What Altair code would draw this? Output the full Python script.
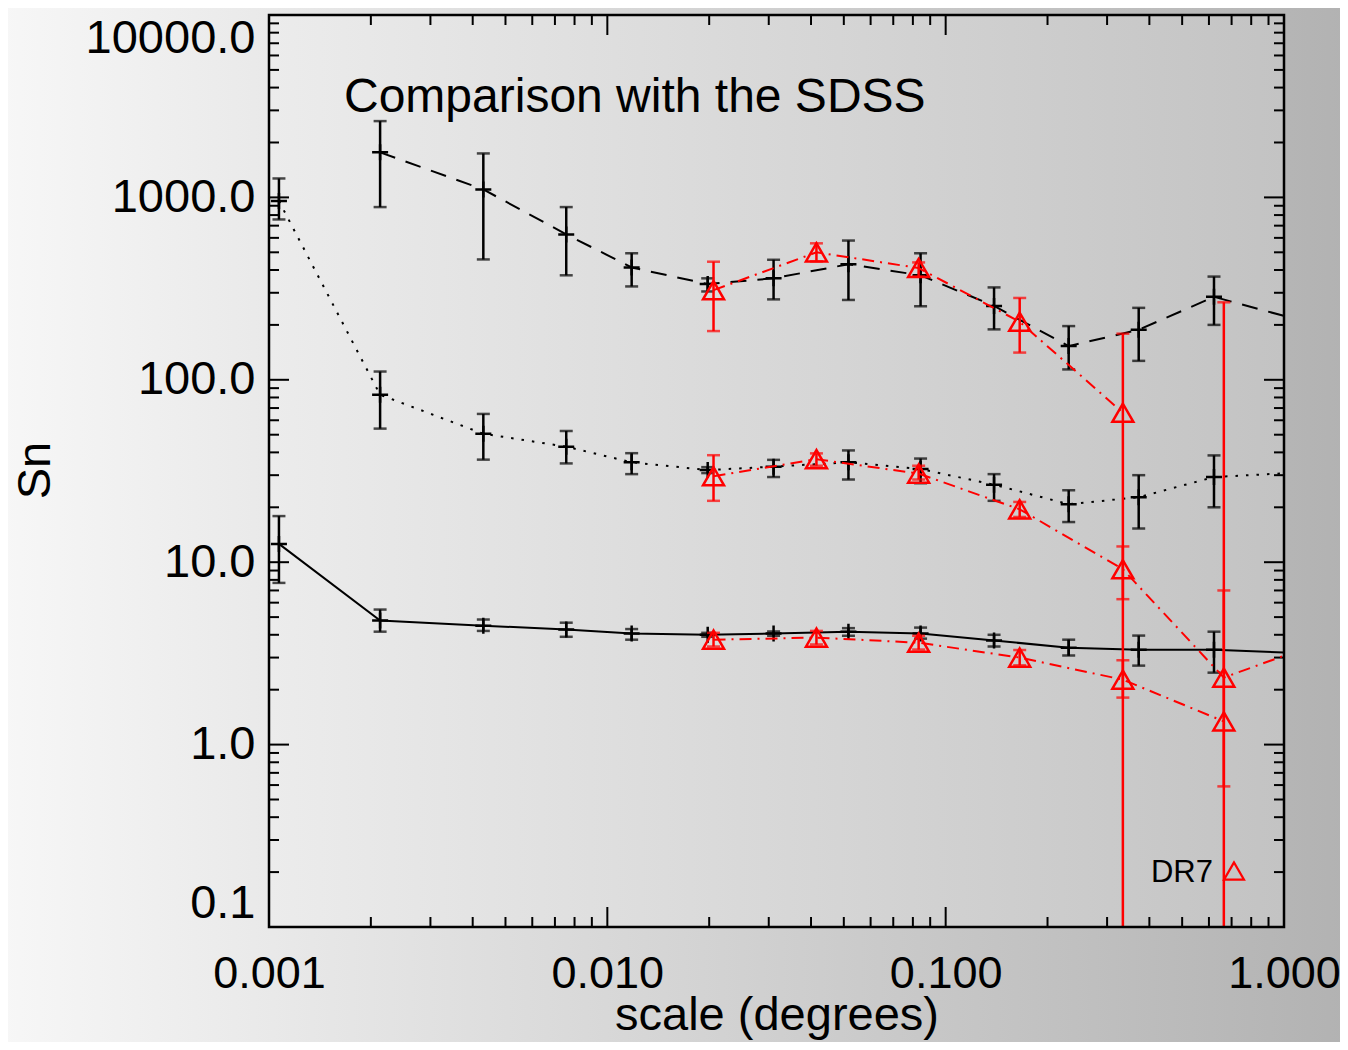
import altair as alt
import pandas as pd

# ---------------- data ----------------
X_BLACK = [0.00107, 0.00213, 0.0043, 0.00756, 0.0118, 0.0198, 0.031,
           0.0516, 0.0843, 0.139, 0.231, 0.372, 0.621]
X_EDGE = 1.0

# dashed series (starts at the 2nd x)
DASH_X = X_BLACK[1:]
DASH_Y = [1766, 1106, 627, 413, 335, 360, 430, 374, 254, 153, 188, 285]
DASH_LO = [885, 457, 374, 325, 305, 276, 274, 253, 189, 114, 127, 200]
DASH_HI = [2620, 1742, 885, 494, 360, 455, 580, 494, 321, 197, 248, 368]
DASH_END = 224

DOT_X = X_BLACK
DOT_Y = [955, 82.8, 50.6, 43, 35.3, 32, 33.4, 35.3, 32.4, 26.6, 20.8, 22.7, 29.3]
DOT_LO = [757, 54, 36.5, 34.8, 30.4, 30.8, 29.3, 28.4, 27.1, 21.7, 16.6, 15.3, 20]
DOT_HI = [1270, 111, 65, 52.4, 39.6, 33.2, 36.4, 41, 37, 30.4, 24.8, 30, 38.5]
DOT_END = 30.7

SOL_X = X_BLACK
SOL_Y = [12.6, 4.79, 4.49, 4.27, 4.06, 4.0, 4.06, 4.16, 4.06, 3.72, 3.4, 3.31, 3.31]
SOL_LO = [7.7, 4.16, 4.2, 3.9, 3.76, 3.9, 3.95, 3.95, 3.81, 3.45, 3.08, 2.71, 2.48]
SOL_HI = [17.9, 5.5, 4.85, 4.66, 4.3, 4.1, 4.17, 4.35, 4.38, 4.0, 3.76, 3.96, 4.16]
SOL_END = 3.2

X_RED = [0.0206, 0.0415, 0.0832, 0.1655, 0.334, 0.664]

RTOP_X = X_RED[:5]
RTOP_Y = [310, 500, 410, 208, 66]
RTOP_LO = [185, 446, 368, 141, 0.05]
RTOP_HI = [444, 560, 440, 281, 179]

RMID_X = X_RED
RMID_Y = [29.6, 36.7, 30.6, 19.5, 9.15, 2.33]
RMID_LO = [21.7, 33.8, 28.4, 17.7, 6.27, 0.59]
RMID_HI = [38.6, 39.5, 33.8, 21.4, 12.2, 7.0]
RMID_END = 3.07

RBOT_X = X_RED
RBOT_Y = [3.76, 3.86, 3.62, 3.0, 2.27, 1.34]
RBOT_LO = [3.45, 3.54, 3.32, 2.72, 1.81, 0.05]
RBOT_HI = [4.1, 4.2, 3.95, 3.3, 2.9, 266]

X_MAJOR = [0.001, 0.01, 0.1, 1.0]
X_MINOR = [m * d for d in [0.001, 0.01, 0.1] for m in range(2, 10)]
Y_MAJOR = [0.1, 1.0, 10.0, 100.0, 1000.0, 10000.0]
Y_MINOR = [m * d for d in [0.1, 1, 10, 100, 1000] for m in range(2, 10)]

TITLE = "Comparison with the SDSS"
X_TITLE = "scale (degrees)"
Y_TITLE = "Sn"
LEGEND = "DR7"

# ---------------- layout / style ----------------
W, H = 1015, 912
FONT = "Liberation Sans"
RED = "#ff0000"

xscale = alt.Scale(type="log", domain=[0.001, 1.0], nice=False)
yscale = alt.Scale(type="log", domain=[0.1, 10000], nice=False)
xaxis = alt.Axis(values=X_MAJOR, format=".3f", title=X_TITLE, labelFlush=False,
                 labelOverlap=False, labelPadding=24, labelFontSize=45,
                 titleX=W / 2, titleY=102, titleFontSize=47,
                 titleBaseline="alphabetic", titleAlign="center", zindex=2)
yaxis = alt.Axis(values=Y_MAJOR, format=".1f", title=Y_TITLE, labelFlush=True,
                 labelOverlap=False, labelPadding=14, labelFontSize=47,
                 titleX=-234, titleY=455, titleFontSize=47,
                 titleAngle=-90, titleAlign="center", titleBaseline="middle", zindex=2)


def X(field="x"):
    return alt.X(f"{field}:Q", scale=xscale, axis=xaxis)


def Y(field="y"):
    return alt.Y(f"{field}:Q", scale=yscale, axis=yaxis)


one = pd.DataFrame({"k": [0]})


def grad(c0, c1):
    return alt.LinearGradient(gradient="linear", x1=0, x2=1, y1=0, y2=0,
                              stops=[alt.GradientStop(color=c0, offset=0),
                                     alt.GradientStop(color=c1, offset=1)])


layers = []
# page background (extends past the plot area)
layers.append(alt.Chart(one).mark_rect(fill=grad("#f7f7f7", "#b2b2b2")).encode(
    x=alt.value(-269), x2=alt.value(1079), y=alt.value(-15), y2=alt.value(1035)))
# plot background
layers.append(alt.Chart(one).mark_rect(fill=grad("#ececec", "#c3c3c3")).encode(
    x=alt.value(0), x2=alt.value(W), y=alt.value(0), y2=alt.value(H)))

# inward ticks on all four sides
ymaj = pd.DataFrame({"y": Y_MAJOR})
ymin = pd.DataFrame({"y": Y_MINOR})
xmaj = pd.DataFrame({"x": X_MAJOR})
xmin = pd.DataFrame({"x": X_MINOR})
for df, ln in [(ymaj, 20), (ymin, 10)]:
    layers.append(alt.Chart(df).mark_rule(color="black", strokeWidth=2).encode(
        y=Y(), x=alt.value(0), x2=alt.value(ln)))
    layers.append(alt.Chart(df).mark_rule(color="black", strokeWidth=2).encode(
        y=Y(), x=alt.value(W), x2=alt.value(W - ln)))
for df, ln in [(xmaj, 20), (xmin, 10)]:
    layers.append(alt.Chart(df).mark_rule(color="black", strokeWidth=2).encode(
        x=X(), y=alt.value(H), y2=alt.value(H - ln)))
    layers.append(alt.Chart(df).mark_rule(color="black", strokeWidth=2).encode(
        x=X(), y=alt.value(0), y2=alt.value(ln)))

series = [
    dict(x=DASH_X, y=DASH_Y, lo=DASH_LO, hi=DASH_HI, end=DASH_END, color="black", dash=[16, 11], red=False),
    dict(x=DOT_X, y=DOT_Y, lo=DOT_LO, hi=DOT_HI, end=DOT_END, color="black", dash=[2.5, 8], red=False),
    dict(x=SOL_X, y=SOL_Y, lo=SOL_LO, hi=SOL_HI, end=SOL_END, color="black", dash=None, red=False),
    dict(x=RTOP_X, y=RTOP_Y, lo=RTOP_LO, hi=RTOP_HI, end=None, color=RED, dash=[12, 6, 2, 6], red=True),
    dict(x=RMID_X, y=RMID_Y, lo=RMID_LO, hi=RMID_HI, end=RMID_END, color=RED, dash=[12, 6, 2, 6], red=True),
    dict(x=RBOT_X, y=RBOT_Y, lo=RBOT_LO, hi=RBOT_HI, end=None, color=RED, dash=[12, 6, 2, 6], red=True),
]

for s in series:
    pts = pd.DataFrame({"x": s["x"], "y": s["y"], "lo": s["lo"], "hi": s["hi"]})
    lx = list(s["x"]) + ([X_EDGE] if s["end"] is not None else [])
    ly = list(s["y"]) + ([s["end"]] if s["end"] is not None else [])
    line = pd.DataFrame({"x": lx, "y": ly})
    lkw = dict(color=s["color"], strokeWidth=2, clip=True)
    if s["dash"]:
        lkw["strokeDash"] = s["dash"]
    layers.append(alt.Chart(line).mark_line(**lkw).encode(x=X(), y=Y()))
    # error bars
    layers.append(alt.Chart(pts).mark_rule(color=s["color"], strokeWidth=2.5, clip=True).encode(
        x=X(), y=Y("lo"), y2="hi:Q"))
    for f in ["lo", "hi"]:
        layers.append(alt.Chart(pts).mark_tick(color=s["color"], orient="horizontal", size=13,
                                               thickness=2.5, clip=True).encode(x=X(), y=Y(f)))
    # markers
    if s["red"]:
        layers.append(alt.Chart(pts).mark_point(shape="triangle-up", size=440, filled=False,
                                                color=RED, strokeWidth=2.5, opacity=1,
                                                clip=True).encode(x=X(), y=Y()))
    else:
        layers.append(alt.Chart(pts).mark_point(shape="M-1,0L1,0M0,-1L0,1", size=256, filled=False,
                                                color="black", strokeWidth=2.5, opacity=1,
                                                clip=True).encode(x=X(), y=Y()))

# title inside the plot
layers.append(alt.Chart(one).mark_text(text=TITLE, font=FONT, fontSize=48, align="left",
                                       baseline="alphabetic", color="black").encode(
    x=alt.value(75), y=alt.value(97)))
# legend
layers.append(alt.Chart(one).mark_text(text=LEGEND, font=FONT, fontSize=31, align="right",
                                       baseline="alphabetic", color="black").encode(
    x=alt.value(944), y=alt.value(867)))
layers.append(alt.Chart(one).mark_point(shape="triangle-up", size=400, filled=False, color=RED,
                                        strokeWidth=2.2, opacity=1).encode(
    x=alt.value(965), y=alt.value(856)))
# frame
layers.append(alt.Chart(one).mark_rect(fillOpacity=0, stroke="black", strokeWidth=2.5).encode(
    x=alt.value(0), x2=alt.value(W), y=alt.value(0), y2=alt.value(H)))

chart = alt.layer(*layers).properties(
    width=W, height=H,
    autosize=alt.AutoSizeParams(type="none"),
    padding={"left": 261, "top": 7, "right": 56, "bottom": 115},
).configure_view(strokeWidth=0).configure_axis(
    ticks=False, domain=False, grid=False, tickSize=0,
    labelFont=FONT, labelColor="black",
    titleFont=FONT, titleColor="black", titleFontWeight="normal",
)

chart.save("out.html", embed_options={"renderer": "svg", "actions": False})
